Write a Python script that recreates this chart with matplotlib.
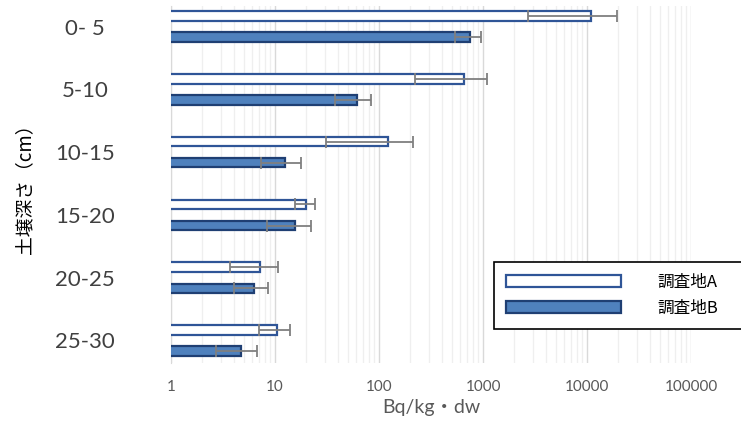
import numpy as np
import matplotlib
matplotlib.use("Agg")
import matplotlib.pyplot as plt
from matplotlib.ticker import FixedLocator, NullFormatter

plt.rcParams['font.family'] = ['Lato', 'Noto Sans CJK JP', 'DejaVu Sans']

# soil depth layers and activity per site (mean, error)
depths = ['0- 5', '5-10', '10-15', '15-20', '20-25', '25-30']
site_a = [11000, 660, 122, 19.7, 7.2, 10.5]
site_a_err = [8300, 440, 91, 4.3, 3.5, 3.5]
site_b = [750, 61, 12.6, 15.4, 6.3, 4.7]
site_b_err = [210, 23, 5.3, 7.0, 2.3, 2.0]
x_ticks = [1, 10, 100, 1000, 10000, 100000]

fig = plt.figure(figsize=(7.41, 4.32), dpi=100)
ax = fig.add_axes([0.2308, 0.1597, 0.7018, 0.8263])

y = np.arange(len(depths))
bar_h = 0.15
err_style = dict(ecolor='#7f7f7f', elinewidth=1.3, capsize=4.5, capthick=1.3)

ax.barh(y - 0.167, site_a, height=bar_h, left=0, color='white',
        edgecolor='#2f5597', linewidth=1.6, xerr=site_a_err,
        error_kw=err_style, label='調査地A', zorder=3)
ax.barh(y + 0.17, site_b, height=bar_h, left=0, color='#4f81bd',
        edgecolor='#1f3f73', linewidth=1.6, xerr=site_b_err,
        error_kw=err_style, label='調査地B', zorder=3)

ax.set_xscale('log')
ax.set_xlim(1, 100000)
ax.set_ylim(5.36, -0.326)

ax.xaxis.set_major_locator(FixedLocator(x_ticks))
ax.set_xticklabels([str(t) for t in x_ticks])
ax.xaxis.set_minor_formatter(NullFormatter())
ax.grid(True, which='major', axis='x', color='#d9d9d9', linewidth=1.0, zorder=0)
ax.grid(True, which='minor', axis='x', color='#efefef', linewidth=0.9, zorder=0)
ax.tick_params(axis='x', which='both', length=0, labelsize=11,
               labelcolor='#595959', pad=12)

ax.set_yticks(y)
ax.set_yticklabels(depths, ha='center')
ax.tick_params(axis='y', length=0, labelsize=16, labelcolor='#404040', pad=62)

for side in ['top', 'right', 'bottom']:
    ax.spines[side].set_visible(False)
ax.spines['left'].set_color('#d9d9d9')

ax.set_xlabel('Bq/kg・dw', fontsize=14, color='#595959', labelpad=4)
ax.set_ylabel('土壌深さ（cm）', fontsize=13.5, color='#000000',
              family=['Noto Sans CJK JP'])
ax.yaxis.set_label_coords(-0.262, 0.5)

leg = fig.legend(loc='upper left',
                 bbox_to_anchor=(494 / 741, 1 - 337 / 432, 270 / 741, 75 / 432),
                 mode='expand', borderaxespad=0, fancybox=False,
                 edgecolor='black', framealpha=1,
                 handlelength=6.9, handleheight=0.75, handletextpad=2.2,
                 labelspacing=0.55, borderpad=0.7,
                 prop={'family': ['Noto Sans CJK JP'], 'size': 12})
leg.get_frame().set_linewidth(1.2)

fig.savefig('out.png', dpi=100)
